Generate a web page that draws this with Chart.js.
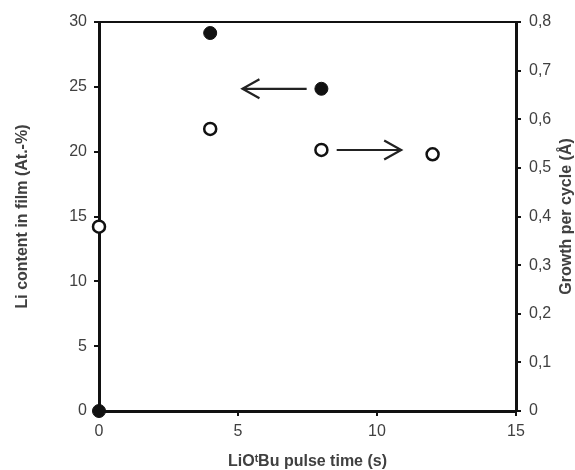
<!DOCTYPE html>
<html>
<head>
<meta charset="utf-8">
<script src="https://cdn.jsdelivr.net/npm/chart.js@4"></script>
<style>
  html, body { margin: 0; padding: 0; background: #fff; }
  #wrap { width: 575px; height: 470px; }
</style>
</head>
<body>
<div id="wrap"><canvas id="chart"></canvas></div>
<script>
// pulse time (s)
const pulseTimeLi = [0, 4, 8];
const liContent = [0, 29.15, 24.85];           // At.-%
const pulseTimeGpc = [0, 4, 8, 12];
const growthPerCycle = [0.379, 0.58, 0.537, 0.528]; // Å

// arrows [x from, x to, y] in data units (left axis scale)
const arrowLeft = [7.47, 5.16, 24.85];
const arrowRight = [8.55, 10.87, 20.13];

const rightTitle = "Growth per cycle (Å)";

const textColor = "#404040";
const fontFamily = "'Liberation Sans', Arial, sans-serif";

// top frame line, arrows and right-hand title (reads bottom to top)
const framePlugin = {
  id: "frame",
  afterDatasetsDraw(chart) {
    const { ctx, chartArea: a, scales } = chart;
    ctx.save();
    ctx.strokeStyle = "#111";
    ctx.lineWidth = 2;
    ctx.beginPath();
    ctx.moveTo(a.left, a.top);
    ctx.lineTo(a.right + 1, a.top);
    ctx.stroke();

    const drawArrow = ([x0, x1, y]) => {
      const px0 = scales.x.getPixelForValue(x0);
      const px1 = scales.x.getPixelForValue(x1);
      const py = scales.y.getPixelForValue(y);
      const dir = px1 > px0 ? 1 : -1;
      ctx.strokeStyle = "#222";
      ctx.lineWidth = 2.2;
      ctx.beginPath();
      ctx.moveTo(px0, py);
      ctx.lineTo(px1, py);
      ctx.moveTo(px1 - dir * 17, py - 9.5);
      ctx.lineTo(px1, py);
      ctx.lineTo(px1 - dir * 17, py + 9.5);
      ctx.stroke();
    };
    drawArrow(arrowLeft);
    drawArrow(arrowRight);

    ctx.translate(567, (a.top + a.bottom) / 2);
    ctx.rotate(-Math.PI / 2);
    ctx.fillStyle = textColor;
    ctx.font = "bold 16px " + fontFamily;
    ctx.textAlign = "center";
    ctx.textBaseline = "middle";
    ctx.fillText(rightTitle, 0, 0);
    ctx.restore();
  }
};

new Chart(document.getElementById("chart"), {
  type: "scatter",
  data: {
    datasets: [
      {
        label: "Li content",
        data: pulseTimeLi.map((x, i) => ({ x, y: liContent[i] })),
        yAxisID: "y",
        pointRadius: 6.5,
        pointBackgroundColor: "#111",
        pointBorderColor: "#111",
        pointBorderWidth: 1,
        clip: false
      },
      {
        label: "Growth per cycle",
        data: pulseTimeGpc.map((x, i) => ({ x, y: growthPerCycle[i] })),
        yAxisID: "y1",
        pointRadius: 6,
        pointBackgroundColor: "#fff",
        pointBorderColor: "#111",
        pointBorderWidth: 2.5,
        clip: false
      }
    ]
  },
  options: {
    responsive: true,
    maintainAspectRatio: false,
    animation: false,
    events: [],
    layout: { padding: { top: 22, left: 0, right: 0, bottom: 0 } },
    plugins: { legend: { display: false }, tooltip: { enabled: false } },
    scales: {
      x: {
        type: "linear",
        min: 0, max: 15,
        afterFit: s => { s.height = 59; },
        ticks: { stepSize: 5, color: textColor, font: { family: fontFamily, size: 16 }, padding: 6 },
        grid: { drawOnChartArea: false, tickLength: 5, color: "#111", lineWidth: 2 },
        border: { color: "#111", width: 3 },
        title: { display: true, text: "LiOᵗBu pulse time (s)", color: textColor,
                 font: { family: fontFamily, size: 16, weight: "bold", lineHeight: 1 }, padding: { bottom: 0 } }
      },
      y: {
        position: "left",
        min: 0, max: 30,
        afterFit: s => { s.width = 99; },
        ticks: { stepSize: 5, color: textColor, font: { family: fontFamily, size: 16 }, padding: 7 },
        grid: { drawOnChartArea: false, tickLength: 5, color: "#111", lineWidth: 2 },
        border: { color: "#111", width: 3 },
        title: { display: true, text: "Li content in film (At.-%)", color: textColor,
                 font: { family: fontFamily, size: 16, weight: "bold", lineHeight: 1 }, padding: { top: 15 } }
      },
      y1: {
        position: "right",
        min: 0, max: 0.8,
        afterFit: s => { s.width = 59; },
        ticks: {
          stepSize: 0.1, color: textColor, font: { family: fontFamily, size: 16 }, padding: 8,
          callback: v => v === 0 ? "0" : v.toFixed(1).replace(".", ",")
        },
        grid: { drawOnChartArea: false, tickLength: 5, color: "#111", lineWidth: 2 },
        border: { color: "#111", width: 3 }
      }
    }
  },
  plugins: [framePlugin]
});
</script>
</body>
</html>
